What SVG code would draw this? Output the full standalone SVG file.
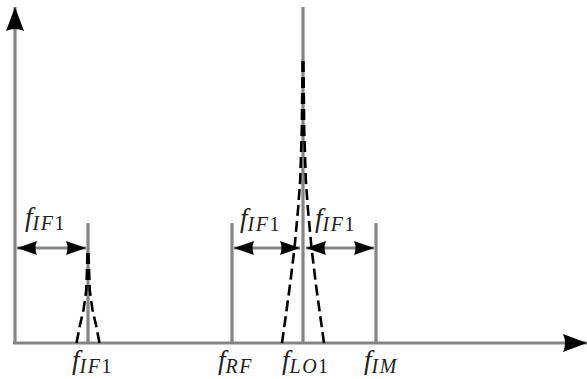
<svg xmlns="http://www.w3.org/2000/svg" width="587" height="379" viewBox="0 0 587 379">
<defs>
<style>
.ln{stroke:#858585;stroke-width:3.2;fill:none}
.dash{stroke:#000;stroke-width:2.6;fill:none;stroke-dasharray:11 5}
.lab{font-family:"Liberation Serif","Times New Roman",serif;fill:#222}
.f{font-style:italic;font-size:27px}
.s{font-style:italic;font-size:20px;letter-spacing:1.5px}
.n{font-style:normal;font-size:20px}
</style>
<marker id="ah" viewBox="0 0 20 14" refX="20" refY="7" markerWidth="20" markerHeight="14" markerUnits="userSpaceOnUse" orient="auto-start-reverse">
<path d="M0,0 L20,7 L0,14 Q3,7 0,0 z" fill="#000"/>
</marker>
<marker id="axh" viewBox="0 0 24 18" refX="24" refY="9" markerWidth="24" markerHeight="18" markerUnits="userSpaceOnUse" orient="auto">
<path d="M0,0 L24,9 L0,18 Q4,9 0,0 z" fill="#000"/>
</marker>
</defs>
<rect width="587" height="379" fill="#fff"/>
<g id="axes">
<line class="ln" x1="15" y1="343" x2="15" y2="7" marker-end="url(#axh)"/>
<line class="ln" x1="13" y1="343" x2="587" y2="343" marker-end="url(#axh)"/>
</g>
<g id="peak-if1">
<line class="ln" x1="88" y1="223" x2="88" y2="343"/>
<path class="dash" d="M76.5,343 L80,325 L83.5,310 L86.3,290 L87.6,250"/>
<path class="dash" d="M99.5,343 L96,325 L92.5,310 L89.7,290 L88.4,250"/>
<text class="lab" x="72" y="369"><tspan class="f">f</tspan><tspan class="s" dy="4">IF</tspan><tspan class="n">1</tspan></text>
</g>
<g id="peak-rf">
<line class="ln" x1="232" y1="223" x2="232" y2="343"/>
<text class="lab" x="218" y="369"><tspan class="f">f</tspan><tspan class="s" dy="4">RF</tspan></text>
</g>
<g id="peak-lo1">
<line class="ln" x1="303" y1="7" x2="303" y2="343"/>
<path class="dash" d="M282,343 L285.5,318 L290,285 L294.5,248 L298,210 L300.2,180 L301.8,130 L302.6,60"/>
<path class="dash" d="M324,343 L320.5,318 L316,285 L311.5,248 L308,210 L305.8,180 L304.2,130 L303.4,60"/>
<text class="lab" x="282" y="369"><tspan class="f">f</tspan><tspan class="s" dy="4">LO</tspan><tspan class="n">1</tspan></text>
</g>
<g id="peak-im">
<line class="ln" x1="376" y1="223" x2="376" y2="343"/>
<text class="lab" x="364" y="369"><tspan class="f">f</tspan><tspan class="s" dy="4">IM</tspan></text>
</g>
<g id="connectors">
<line class="ln" x1="17" y1="248" x2="86" y2="248" marker-start="url(#ah)" marker-end="url(#ah)"/>
<line class="ln" x1="234" y1="248" x2="300" y2="248" marker-start="url(#ah)" marker-end="url(#ah)"/>
<line class="ln" x1="306" y1="248" x2="374" y2="248" marker-start="url(#ah)" marker-end="url(#ah)"/>
</g>
<g id="dim-labels">
<text class="lab" x="25" y="226"><tspan class="f">f</tspan><tspan class="s" dy="4">IF</tspan><tspan class="n">1</tspan></text>
<text class="lab" x="240" y="227"><tspan class="f">f</tspan><tspan class="s" dy="4">IF</tspan><tspan class="n">1</tspan></text>
<text class="lab" x="315" y="227"><tspan class="f">f</tspan><tspan class="s" dy="4">IF</tspan><tspan class="n">1</tspan></text>
</g>
</svg>
